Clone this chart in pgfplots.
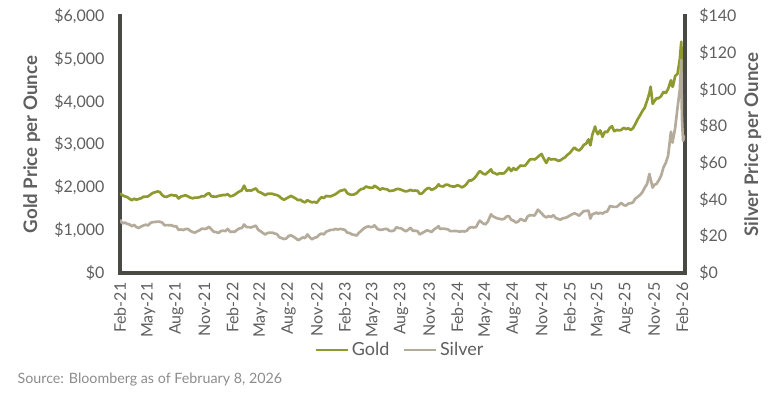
\documentclass[border=0pt]{standalone}
\usepackage{pgfplots}
\pgfplotsset{compat=1.18}
\usepackage{fontspec}
\setmainfont{Lato}
\definecolor{goldc}{HTML}{8E9A2F}
\definecolor{silverc}{HTML}{B5AB9B}
\definecolor{axc}{HTML}{4A4A44}
\definecolor{txt}{HTML}{5F5F5F}
\definecolor{srcc}{HTML}{8C8C8C}

\pgfplotstableread{
t v
0 1860
0.25 1815
0.5 1790
0.75 1775
1.0 1735
1.25 1700
1.5 1735
1.75 1710
2.0 1730
2.25 1745
2.5 1780
2.75 1780
3.0 1790
3.25 1830
3.5 1870
3.75 1885
4.0 1905
4.25 1890
4.5 1820
4.75 1780
5.0 1780
5.25 1805
5.5 1825
5.75 1810
6.0 1810
6.25 1740
6.5 1785
6.75 1800
7.0 1815
7.25 1790
7.5 1760
7.75 1745
8.0 1760
8.25 1760
8.5 1770
8.75 1795
9.0 1790
9.25 1840
9.5 1865
9.75 1790
10.0 1785
10.25 1780
10.5 1800
10.75 1810
11.0 1820
11.25 1820
11.5 1840
11.75 1790
12.0 1800
12.25 1830
12.5 1870
12.75 1905
13.0 1930
13.25 2040
13.5 1920
13.75 1930
14.0 1925
14.25 1950
14.5 1975
14.75 1900
15.0 1880
15.25 1850
15.5 1815
15.75 1850
16.0 1850
16.25 1850
16.5 1830
16.75 1820
17.0 1790
17.25 1740
17.5 1710
17.75 1740
18.0 1770
18.25 1800
18.5 1770
18.75 1740
19.0 1700
19.25 1710
19.5 1670
19.75 1650
20.0 1700
20.25 1670
20.5 1650
20.75 1660
21.0 1640
21.25 1710
21.5 1770
21.75 1750
22.0 1800
22.25 1790
22.5 1790
22.75 1815
23.0 1840
23.25 1880
23.5 1920
23.75 1930
24.0 1950
24.25 1865
24.5 1835
24.75 1825
25.0 1835
25.25 1865
25.5 1920
25.75 1960
26.0 1970
26.25 2020
26.5 2000
26.75 1990
27.0 1990
27.15 2040
27.5 1990
27.75 1945
28.0 1975
28.25 1960
28.5 1955
28.75 1915
29.0 1920
29.25 1930
29.5 1960
29.75 1960
30.0 1945
30.25 1920
30.5 1905
30.75 1915
31.0 1940
31.25 1920
31.5 1925
31.75 1920
32.0 1845
32.25 1860
32.5 1920
32.75 1970
33.0 1985
33.25 1940
33.5 1965
33.75 2000
34.0 2070
34.15 2030
34.5 2020
34.75 2060
35.0 2060
35.25 2030
35.5 2020
35.75 2020
36.0 2050
36.25 2030
36.5 2000
36.75 2030
37.0 2085
37.25 2160
37.5 2160
37.75 2200
38.0 2260
38.25 2340
38.4 2380
38.75 2320
39.0 2300
39.25 2350
39.6 2420
39.75 2350
40.0 2330
40.25 2300
40.5 2330
40.75 2320
41.0 2330
41.25 2390
41.5 2460
41.75 2380
42.0 2450
42.25 2400
42.5 2460
42.75 2510
43.0 2500
43.25 2510
43.5 2580
43.75 2650
44.0 2660
44.25 2650
44.5 2690
44.75 2740
45.0 2780
45.15 2700
45.5 2570
45.75 2680
46.0 2650
46.25 2660
46.5 2650
46.75 2620
47.0 2630
47.25 2670
47.5 2700
47.75 2760
48.0 2800
48.25 2870
48.5 2930
48.75 2880
49.0 2860
49.25 2910
49.5 2990
49.75 3020
50.0 3120
50.2 2980
50.4 3220
50.7 3420
50.85 3300
51.0 3240
51.25 3330
51.5 3180
51.75 3300
52.0 3290
52.25 3380
52.5 3430
52.75 3310
53.0 3340
53.25 3330
53.5 3340
53.75 3390
54.0 3360
54.25 3380
54.5 3340
54.75 3380
55.0 3480
55.25 3590
55.5 3680
55.75 3780
56.0 3860
56.25 4020
56.5 4200
56.63 4350
56.85 3950
57.0 4000
57.25 4080
57.5 4080
57.75 4130
58.0 4230
58.25 4200
58.5 4300
58.8 4500
58.95 4350
59.0 4350
59.25 4600
59.5 4650
59.75 5000
59.9 5400
59.97 4900
60.03 4650
60.1 4900
60.23 4950
}\golddata

\pgfplotstableread{
t v
0 29.0
0.25 27.0
0.5 27.5
0.75 26.8
1.0 26.5
1.25 25.5
1.5 26.2
1.75 25.0
2.0 24.5
2.25 25.3
2.5 25.9
2.75 26.3
3.0 25.9
3.25 27.3
3.5 27.7
3.75 27.8
4.0 28.0
4.25 27.9
4.5 27.5
4.75 26.0
5.0 26.1
5.25 26.0
5.5 26.0
5.75 25.4
6.0 25.5
6.25 23.5
6.5 23.7
6.75 23.4
7.0 24.0
7.25 24.0
7.5 23.0
7.75 22.3
8.0 22.0
8.25 22.7
8.5 23.3
8.75 24.2
9.0 24.0
9.25 24.2
9.5 25.2
9.75 23.8
10.0 22.5
10.25 22.3
10.5 21.8
10.75 22.8
11.0 23.1
11.25 22.8
11.5 24.0
11.75 22.5
12.0 22.5
12.25 22.5
12.5 23.5
12.75 24.3
13.0 24.5
13.25 26.4
13.5 25.0
13.75 25.0
14.0 24.8
14.25 25.3
14.5 25.8
14.75 23.5
15.0 22.8
15.25 21.8
15.5 21.0
15.75 21.8
16.0 22.0
16.25 22.0
16.5 21.5
16.75 21.2
17.0 19.5
17.25 19.0
17.5 18.5
17.75 18.8
18.0 20.2
18.25 20.5
18.5 19.8
18.75 19.0
19.0 17.9
19.25 18.5
19.5 19.4
19.75 19.0
20.0 21.0
20.25 19.5
20.5 18.3
20.75 19.2
21.0 19.5
21.25 20.8
21.5 21.5
21.75 21.0
22.0 22.5
22.25 23.0
22.5 23.5
22.75 23.5
23.0 24.0
23.25 23.7
23.5 24.0
23.75 23.8
24.0 23.5
24.25 22.0
24.5 21.8
24.75 21.0
25.0 20.8
25.25 20.4
25.5 21.9
25.75 23.0
26.0 24.2
26.25 25.0
26.5 25.4
26.75 25.0
27.0 25.2
27.15 26.0
27.5 23.9
27.75 23.5
28.0 23.6
28.25 24.0
28.5 24.0
28.75 23.0
29.0 22.8
29.25 23.2
29.5 24.9
29.75 24.5
30.0 24.3
30.25 23.5
30.5 22.7
30.75 23.5
31.0 24.6
31.25 23.0
31.5 23.0
31.75 22.8
32.0 21.0
32.25 21.8
32.5 22.5
32.75 23.2
33.0 22.9
33.25 22.3
33.5 23.7
33.75 24.5
34.0 25.5
34.15 24.0
34.5 24.2
34.75 24.0
35.0 23.8
35.25 22.8
35.5 22.8
35.75 22.9
36.0 22.8
36.25 22.5
36.5 22.8
36.75 22.6
37.0 23.0
37.25 24.5
37.5 25.0
37.75 24.8
38.0 25.0
38.25 27.5
38.4 28.5
38.75 27.0
39.0 26.5
39.25 28.0
39.6 32.0
39.75 31.0
40.0 30.4
40.25 29.8
40.5 29.5
40.75 29.2
41.0 29.5
41.25 30.8
41.5 31.0
41.75 29.0
42.0 28.5
42.25 27.5
42.5 28.0
42.75 29.5
43.0 28.8
43.25 28.3
43.5 30.8
43.75 31.5
44.0 31.5
44.25 31.3
44.6 34.5
44.8 33.5
45.0 32.5
45.25 31.0
45.5 30.3
45.75 31.0
46.0 30.5
46.25 31.5
46.5 30.0
46.75 29.5
47.0 29.0
47.25 29.8
47.5 30.0
47.75 30.5
48.0 31.3
48.25 32.0
48.5 32.5
48.75 32.0
49.0 31.2
49.25 32.5
49.5 33.8
49.75 33.8
50.0 34.0
50.2 29.6
50.4 32.0
50.7 32.5
50.85 33.0
51.0 32.3
51.25 32.8
51.5 32.4
51.75 33.2
52.0 33.5
52.3 36.5
52.5 36.2
52.75 36.0
53.0 36.0
53.25 37.0
53.5 38.2
53.75 37.0
54.0 36.7
54.25 37.8
54.5 38.0
54.75 38.5
55.0 40.5
55.25 41.5
55.5 42.5
55.75 44.0
56.0 46.5
56.25 48.5
56.5 54.0
56.63 51.0
56.85 46.5
57.0 48.0
57.25 48.5
57.5 50.5
57.75 53.0
58.0 57.5
58.25 60.0
58.5 64.0
58.8 77.0
58.9 72.0
58.97 71.0
59.0 72.0
59.25 79.0
59.5 90.0
59.75 100.0
59.9 116.0
59.97 85.0
60.03 78.0
60.1 72.0
60.23 75.0
}\silverdata

\pgfplotsset{
  common/.style={
    at={(0,0)}, anchor=south west,
    scale only axis, width=423.75pt, height=192.75pt,
    xmin=0, xmax=60.3,
    major tick length=0pt,
    tick label style={font=\fontsize{12}{14}\selectfont, text=txt},
    axis line style={line width=3pt, draw=axc, line cap=rect},
  }
}

\begin{document}
\begin{tikzpicture}
\path[use as bounding box] (-90pt,-90pt) rectangle (493.5pt,204.75pt);
\begin{axis}[common,
  axis x line*=bottom, axis y line*=left,
  ymin=0, ymax=6000,
  ytick={0,1000,2000,3000,4000,5000,6000},
  yticklabels={\$0,{\$1,000},{\$2,000},{\$3,000},{\$4,000},{\$5,000},{\$6,000}},
  yticklabel style={inner sep=0pt, anchor=east, xshift=-11.5pt},
  xtick={0,3,...,60},
  xticklabels={Feb-21,May-21,Aug-21,Nov-21,Feb-22,May-22,Aug-22,Nov-22,Feb-23,May-23,Aug-23,Nov-23,Feb-24,May-24,Aug-24,Nov-24,Feb-25,May-25,Aug-25,Nov-25,Feb-26},
  xticklabel style={yshift=-7pt, rotate=90, anchor=east, inner sep=0pt},
  ylabel={Gold Price per Ounce},
  every axis y label/.style={at={(axis description cs:-0.156,0.5)}, rotate=90, anchor=center, font=\bfseries\fontsize{14}{16}\selectfont, text=txt},
  legend style={at={(axis description cs:0.496,-0.30)}, anchor=center, draw=none, fill=none, legend columns=2, font=\fontsize{13.5}{15}\selectfont, text=txt, /tikz/every even column/.append style={column sep=8pt}},
  legend image code/.code={\draw[#1] (0pt,0pt) -- (24pt,0pt);},
]
\addplot[goldc, line width=2pt, line join=round] table[x=t,y=v] {\golddata};
\addlegendentry{Gold}
\addlegendimage{silverc, line width=2pt}
\addlegendentry{Silver}
\end{axis}
\begin{axis}[common,
  axis y line*=right, axis x line=none,
  ymin=0, ymax=140,
  ytick={0,20,...,140},
  yticklabels={\$0,\$20,\$40,\$60,\$80,\$100,\$120,\$140},
  yticklabel style={inner sep=0pt, anchor=west, xshift=10.5pt},
  ylabel={Silver Price per Ounce},
  every axis y label/.style={at={(axis description cs:1.12,0.5)}, rotate=90, anchor=center, font=\bfseries\fontsize{14}{16}\selectfont, text=txt},
]
\addplot[silverc, line width=2pt, line join=round] table[x=t,y=v] {\silverdata};
\end{axis}
\node[anchor=west, font=\fontsize{10.7}{12}\selectfont, text=srcc, inner sep=0pt] at (-77pt,-80.25pt) {Source: Bloomberg as of February 8, 2026};
\end{tikzpicture}
\end{document}
